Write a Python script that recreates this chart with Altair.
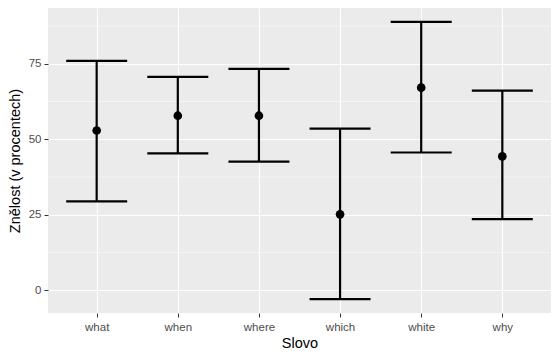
import altair as alt
import pandas as pd

words = ["what", "when", "where", "which", "white", "why"]
means = [52.9, 57.8, 57.8, 25.1, 67.1, 44.3]
lower = [29.4, 45.3, 42.6, -3.0, 45.6, 23.5]
upper = [76.0, 70.7, 73.3, 53.5, 88.9, 66.1]
minor_grid = [12.5, 37.5, 62.5, 87.5]
y_ticks = [0, 25, 50, 75]

df = pd.DataFrame({"Slovo": words, "mean": means, "lo": lower, "hi": upper})
grid_df = pd.DataFrame({"g": minor_grid})

FONT = "Liberation Sans"
yscale = alt.Scale(domain=[-7.6, 93.5], nice=False, zero=False)
xscale = alt.Scale(type="point", padding=0.6, domain=words)

xaxis = alt.Axis(title="Slovo", grid=True, gridColor="white", gridWidth=1.1,
                 labelAngle=0, labelColor="#4D4D4D", labelFontSize=11.5,
                 labelFont=FONT, titleFont=FONT, titleFontSize=14.5,
                 titleFontWeight="normal", titleColor="black",
                 tickColor="#333333", tickSize=4, domain=False,
                 labelPadding=4, titlePadding=4)
yaxis = alt.Axis(title="Znělost (v procentech)", values=y_ticks, grid=True,
                 gridColor="white", gridWidth=1.1,
                 labelColor="#4D4D4D", labelFontSize=11.5, labelFont=FONT,
                 titleFont=FONT, titleFontSize=14.5, titleFontWeight="normal",
                 titleColor="black", tickColor="#333333", tickSize=4,
                 domain=False, labelPadding=3, titlePadding=6)

def X():
    return alt.X("Slovo:N", scale=xscale, sort=words, axis=xaxis)

def Y(field):
    return alt.Y(field, scale=yscale, axis=yaxis)

minor = alt.Chart(grid_df).mark_rule(color="white", strokeWidth=0.5).encode(
    y=Y("g:Q"))

bars = alt.Chart(df).mark_rule(color="black", strokeWidth=2.2).encode(
    x=X(), y=Y("lo:Q"), y2="hi:Q")

caps_lo = alt.Chart(df).mark_tick(color="black", thickness=2.2, size=61, opacity=1).encode(
    x=X(), y=Y("lo:Q"))
caps_hi = alt.Chart(df).mark_tick(color="black", thickness=2.2, size=61, opacity=1).encode(
    x=X(), y=Y("hi:Q"))
pts = alt.Chart(df).mark_circle(color="black", size=75, opacity=1).encode(
    x=X(), y=Y("mean:Q"))

chart = alt.layer(minor, bars, caps_lo, caps_hi, pts).properties(
    width=503, height=305,
    padding={"left": 40, "top": 0, "right": 0, "bottom": 37},
    autosize=alt.AutoSizeParams(type="none"),
    background="white",
).configure_view(fill="#EBEBEB", stroke=None)

chart.save("out.html", embed_options={"renderer": "svg", "actions": False})
